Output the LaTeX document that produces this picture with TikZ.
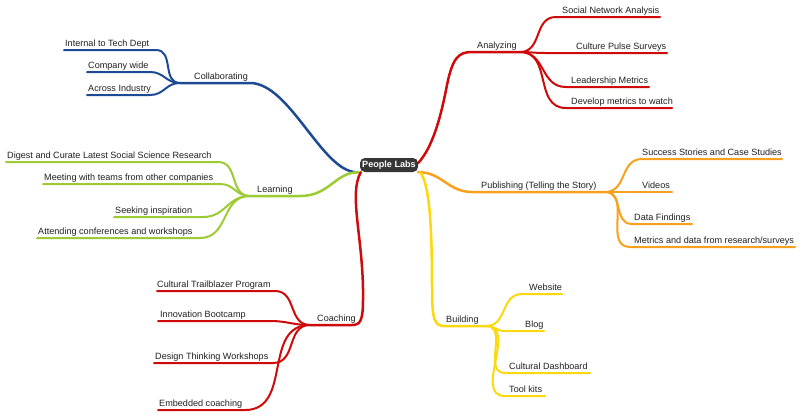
\documentclass[tikz,border=0pt]{standalone}
\usepackage{fontspec}
\setmainfont{Liberation Sans}
\usetikzlibrary{backgrounds}
\definecolor{cblue}{HTML}{1C4B94}
\definecolor{cred}{HTML}{CF0A0A}
\definecolor{cgreen}{HTML}{9CCB34}
\definecolor{corange}{HTML}{FBA01C}
\definecolor{cyellow}{HTML}{FDD80C}
\definecolor{rootfill}{HTML}{363636}
\begin{document}
\begin{tikzpicture}[x=1pt,y=-1pt,
  lbl/.style={anchor=base west,inner sep=0pt,font=\fontsize{9.1}{11}\selectfont,text=black!88},
  trunk/.style={line width=2.5pt,line cap=round},
  twig/.style={line width=2pt,line cap=round},
  hz/.style={out=0,in=180,looseness=1.15}]
\useasboundingbox (0,0) rectangle (800,418);

\node[fill=rootfill,rounded corners=5pt,minimum width=58pt,minimum height=14pt,inner sep=0pt,
      text=white,font=\fontsize{9.1}{11}\selectfont\bfseries] (root) at (389,165) {People Labs};

% ---------------- labels ----------------
\node[lbl] (col) at (194,79) {Collaborating};
\node[lbl] (c1) at (65,46) {Internal to Tech Dept};
\node[lbl] (c2) at (88,68) {Company wide};
\node[lbl] (c3) at (88,91) {Across Industry};

\node[lbl] (lrn) at (257,192) {Learning};
\node[lbl] (l1) at (7,158) {Digest and Curate Latest Social Science Research};
\node[lbl] (l2) at (44,180) {Meeting with teams from other companies};
\node[lbl] (l3) at (115,213) {Seeking inspiration};
\node[lbl] (l4) at (38,234) {Attending conferences and workshops};

\node[lbl] (coa) at (317,321) {Coaching};
\node[lbl] (k1) at (157,287) {Cultural Trailblazer Program};
\node[lbl] (k2) at (160,317) {Innovation Bootcamp};
\node[lbl] (k3) at (155,359) {Design Thinking Workshops};
\node[lbl] (k4) at (159,406) {Embedded coaching};

\node[lbl] (ana) at (477,48) {Analyzing};
\node[lbl] (a1) at (562,13) {Social Network Analysis};
\node[lbl] (a2) at (576,49) {Culture Pulse Surveys};
\node[lbl] (a3) at (571,83) {Leadership Metrics};
\node[lbl] (a4) at (571,104) {Develop metrics to watch};

\node[lbl] (pub) at (481,188) {Publishing (Telling the Story)};
\node[lbl] (p1) at (642,155) {Success Stories and Case Studies};
\node[lbl] (p2) at (642,188) {Videos};
\node[lbl] (p3) at (634,220) {Data Findings};
\node[lbl] (p4) at (634,243) {Metrics and data from research/surveys};

\node[lbl] (bld) at (446,322) {Building};
\node[lbl] (b1) at (529,290) {Website};
\node[lbl] (b2) at (525,327) {Blog};
\node[lbl] (b3) at (509,369) {Cultural Dashboard};
\node[lbl] (b4) at (509,392) {Tool kits};

% ---------------- coordinates ----------------
\coordinate (colJ) at (180,83);  \coordinate (colE) at (250,83);
\coordinate (c1S) at (156,50);   \coordinate (c1E) at (64,50);
\coordinate (c2S) at (150,72);   \coordinate (c2E) at (87,72);
\coordinate (c3S) at (150,95);   \coordinate (c3E) at (87,95);

\coordinate (lrnJ) at (250,196); \coordinate (lrnE) at (300,196);
\coordinate (l1S) at (218,162);  \coordinate (l1E) at (6,162);
\coordinate (l2S) at (220,184);  \coordinate (l2E) at (43,184);
\coordinate (l3S) at (203,217);  \coordinate (l3E) at (114,217);
\coordinate (l4S) at (200,238);  \coordinate (l4E) at (37,238);

\coordinate (coaJ) at (310,325); \coordinate (coaE) at (352,325);
\coordinate (k1S) at (275,291);  \coordinate (k1E) at (157,291);
\coordinate (k2S) at (270,321);  \coordinate (k2E) at (158,321);
\coordinate (k3S) at (273,363);  \coordinate (k3E) at (154,363);
\coordinate (k4S) at (245,410);  \coordinate (k4E) at (158,410);

\coordinate (anaJ) at (520,52);  \coordinate (anaE) at (472,52);
\coordinate (a1S) at (556,17);   \coordinate (a1E) at (660,17);
\coordinate (a2S) at (545,53);   \coordinate (a2E) at (667,53);
\coordinate (a3S) at (566,87);   \coordinate (a3E) at (649,87);
\coordinate (a4S) at (566,108);  \coordinate (a4E) at (672,108);

\coordinate (pubJ) at (605,192); \coordinate (pubE) at (472,192);
\coordinate (p1S) at (642,159);  \coordinate (p1E) at (782,159);
\coordinate (p2S) at (625,192);  \coordinate (p2E) at (672,192);
\coordinate (p3S) at (632,224);  \coordinate (p3E) at (692,224);
\coordinate (p4S) at (630,247);  \coordinate (p4E) at (795,247);

\coordinate (bldJ) at (486,326); \coordinate (bldE) at (444,326);
\coordinate (b1S) at (522,294);  \coordinate (b1E) at (562,294);
\coordinate (b2S) at (505,331);  \coordinate (b2E) at (544,331);
\coordinate (b3S) at (505,373);  \coordinate (b3E) at (590,373);
\coordinate (b4S) at (505,396);  \coordinate (b4E) at (545,396);

\begin{scope}[on background layer]
% Collaborating
\draw[trunk,cblue] ([xshift=-3pt]root.south west) .. controls (322,172) and (290,83) .. (colE) -- (colJ);
\draw[twig,cblue] (c1E) -- (c1S) to[hz] (colJ);
\draw[twig,cblue] (c2E) -- (c2S) to[hz] (colJ);
\draw[twig,cblue] (c3E) -- (c3S) to[hz] (colJ);
% Learning
\draw[trunk,cgreen] ([xshift=-1pt]root.south west) .. controls (335,172) and (330,196) .. (lrnE) -- (lrnJ);
\draw[twig,cgreen] (l1E) -- (l1S) to[hz] (lrnJ);
\draw[twig,cgreen] (l2E) -- (l2S) to[hz] (lrnJ);
\draw[twig,cgreen] (l3E) -- (l3S) to[hz] (lrnJ);
\draw[twig,cgreen] (l4E) -- (l4S) to[hz] (lrnJ);
% Coaching
\draw[trunk,cred] ([xshift=1pt]root.south west) .. controls (348,195) and (364,240) .. (363,300)
   .. controls (363,321) and (360,325) .. (coaE) -- (coaJ);
\draw[twig,cred] (k1E) -- (k1S) to[hz] (coaJ);
\draw[twig,cred] (k2E) -- (k2S) to[hz] (coaJ);
\draw[twig,cred] (k3E) -- (k3S) to[hz] (coaJ);
\draw[twig,cred] (k4E) -- (k4S) to[hz] (coaJ);
% Analyzing
\draw[trunk,cred] ([yshift=2pt]root.east) .. controls (432,148) and (440,120) .. (446,90)
   .. controls (452,58) and (458,52) .. (anaE) -- (anaJ);
\draw[twig,cred] (anaJ) to[hz] (a1S) -- (a1E);
\draw[twig,cred] (anaJ) to[hz] (a2S) -- (a2E);
\draw[twig,cred] (anaJ) to[hz] (a3S) -- (a3E);
\draw[twig,cred] (anaJ) to[hz] (a4S) -- (a4E);
% Publishing
\draw[trunk,corange] (root.south east) .. controls (442,172) and (448,192) .. (pubE) -- (pubJ);
\draw[twig,corange] (pubJ) to[hz] (p1S) -- (p1E);
\draw[twig,corange] (pubJ) to[hz] (p2S) -- (p2E);
\draw[twig,corange] (pubJ) to[hz] (p3S) -- (p3E);
\draw[twig,corange] (pubJ) to[hz] (p4S) -- (p4E);
% Building
\draw[trunk,cyellow] ([xshift=2pt]root.south east) .. controls (430,185) and (432,230) .. (432,290)
   .. controls (432,320) and (435,326) .. (bldE) -- (bldJ);
\draw[twig,cyellow] (bldJ) to[hz] (b1S) -- (b1E);
\draw[twig,cyellow] (bldJ) to[hz] (b2S) -- (b2E);
\draw[twig,cyellow] (bldJ) to[hz] (b3S) -- (b3E);
\draw[twig,cyellow] (bldJ) to[hz] (b4S) -- (b4E);
\end{scope}
\end{tikzpicture}
\end{document}
